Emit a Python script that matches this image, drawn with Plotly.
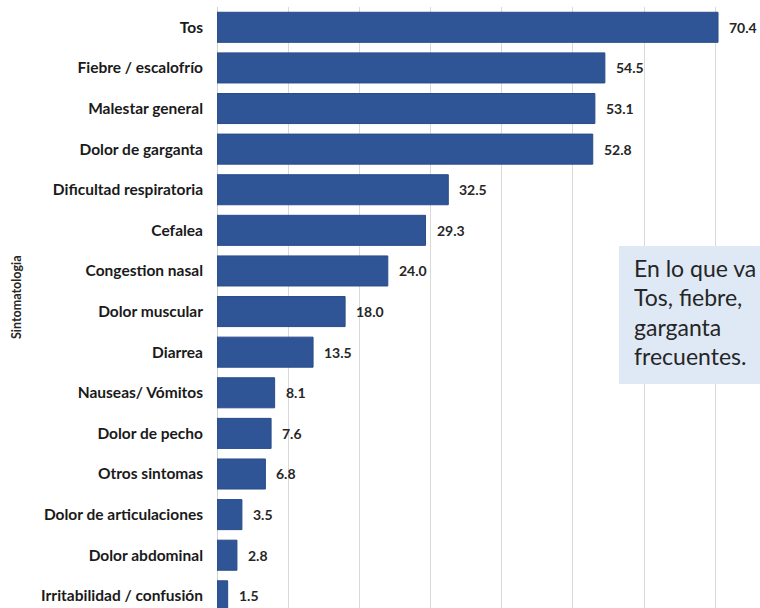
import plotly.graph_objects as go

categories = [
    "Tos", "Fiebre / escalofrío", "Malestar general", "Dolor de garganta",
    "Dificultad respiratoria", "Cefalea", "Congestion nasal", "Dolor muscular",
    "Diarrea", "Nauseas/ Vómitos", "Dolor de pecho", "Otros sintomas",
    "Dolor de articulaciones", "Dolor abdominal", "Irritabilidad / confusión",
]
values = [70.4, 54.5, 53.1, 52.8, 32.5, 29.3, 24.0, 18.0, 13.5, 8.1, 7.6, 6.8, 3.5, 2.8, 1.5]
axis_title = "Sintomatologia"
note_lines = [
    "En lo que va",
    "Tos, fiebre,",
    "garganta",
    "frecuentes.",
]

W, H = 760, 608
ML, MR, MT, MB = 217, 0, 7, 0
PW, PH = W - ML - MR, H - MT - MB


def px_x(p):
    return (p - ML) / PW


def px_y(p):
    return (H - MB - p) / PH


fig = go.Figure()
fig.add_trace(go.Bar(
    x=values, y=categories, orientation="h",
    marker=dict(color="#2f5597", line=dict(color="#284c8a", width=1)),
    hoverinfo="x+y",
))

annotations = []
for c, v in zip(categories, values):
    annotations.append(dict(
        x=v, y=c, xref="x", yref="y", text=f"{v:.1f}", showarrow=False,
        xanchor="left", xshift=9,
        font=dict(family="Lato", size=14, color="#262626", weight="bold"),
    ))

annotations.append(dict(
    x=px_x(16), y=px_y(297), xref="paper", yref="paper", text=axis_title,
    textangle=-90, showarrow=False, xanchor="center", yanchor="middle",
    font=dict(family="Lato", size=12.5, color="#262626", weight="bold"),
))

line_ys = [268, 297, 327, 356]
for t, yy in zip(note_lines, line_ys):
    annotations.append(dict(
        x=px_x(632), y=px_y(yy), xref="paper", yref="paper", text=t,
        showarrow=False, xanchor="left", yanchor="middle", align="left",
        font=dict(family="Lato", size=23, color="#262626"),
    ))

fig.update_layout(
    width=W, height=H,
    margin=dict(l=ML, r=MR, t=MT, b=MB, pad=0),
    paper_bgcolor="white", plot_bgcolor="white",
    bargap=0.26, showlegend=False,
    xaxis=dict(range=[0, 76.3], dtick=10, showticklabels=False,
               showgrid=True, gridcolor="#d9d9d9", gridwidth=1,
               zeroline=True, zerolinecolor="#d0d0d0", zerolinewidth=1,
               showline=False, fixedrange=True),
    yaxis=dict(categoryorder="array", categoryarray=categories,
               range=[14.30, -0.5], showgrid=False, showline=False,
               ticks="", ticklabelstandoff=13, fixedrange=True,
               tickfont=dict(family="Lato", size=15.5, color="#1a1a1a", weight="bold")),
    shapes=[dict(type="rect", xref="paper", yref="paper",
                 x0=px_x(619), x1=px_x(800), y0=px_y(246), y1=px_y(384),
                 fillcolor="#dfe9f6", line=dict(width=0), layer="above")],
    annotations=annotations,
)

fig.write_html("out.html", config={"displayModeBar": False},
               post_script="document.body.style.margin='0';")
